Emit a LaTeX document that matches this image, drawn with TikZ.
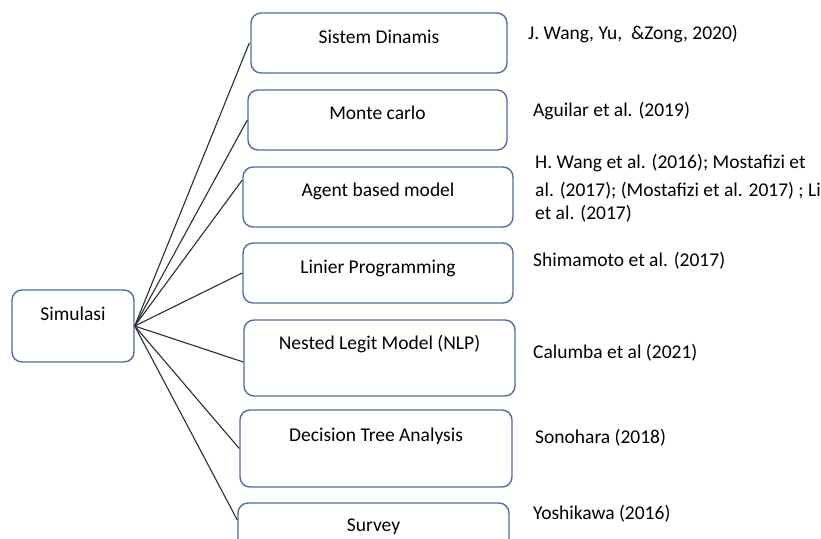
\documentclass[tikz,border=0pt]{standalone}
\usepackage{fontspec}
\setmainfont{Carlito}
\definecolor{boxblue}{RGB}{84,108,160}
\definecolor{linegray}{RGB}{45,45,45}
\newcommand{\txtsize}{\fontsize{19.5}{25.5}\selectfont}
\begin{document}
\begin{tikzpicture}[x=1pt,y=-1pt,
  box/.style={draw=boxblue, line width=1.4pt, rounded corners=10pt, inner sep=0pt, fill=white},
  lbl/.style={font=\txtsize, inner sep=0pt, anchor=center, text height=0.68em, text depth=0.18em},
  cite/.style={font=\txtsize, inner sep=0pt, anchor=west, text height=0.68em, text depth=0.18em},
  conn/.style={draw=linegray, line width=1.1pt}]
\useasboundingbox (0,0) rectangle (821,538);
\clip (0,0) rectangle (821,538);
\fill[white] (0,0) rectangle (821,538);
% boxes
\node[box, minimum width=122pt, minimum height=72pt] (sim) at (73,326) {};
\node[box, minimum width=256pt, minimum height=60pt] (b1) at (379,43) {};
\node[box, minimum width=259pt, minimum height=60pt] (b2) at (377.5,120) {};
\node[box, minimum width=270pt, minimum height=60pt] (b3) at (378,197) {};
\node[box, minimum width=270pt, minimum height=60pt] (b4) at (378,273) {};
\node[box, minimum width=271pt, minimum height=76pt] (b5) at (379.5,358) {};
\node[box, minimum width=272pt, minimum height=77pt] (b6) at (376,448.5) {};
\node[box, minimum width=271pt, minimum height=72pt] (b7) at (373.5,539) {};
% labels
\node[lbl] (tsim) at (73,318) {Simulasi};
\node[lbl] (t1) at (379,41) {Sistem Dinamis};
\node[lbl] (t2) at (377.5,117) {Monte carlo};
\node[lbl] (t3) at (378,194) {Agent based model};
\node[lbl] (t4) at (378,271) {Linier Programming};
\node[lbl] (t5) at (379.5,347) {Nested Legit Model (NLP)};
\node[lbl] (t6) at (376,439) {Decision Tree Analysis};
\node[lbl] (t7) at (373.5,529) {Survey};
% connectors
\coordinate (hub) at (sim.east);
\draw[conn] (hub) -- ([xshift=-1pt]b1.west);
\draw[conn] (hub) -- (b2.west);
\draw[conn] (hub) -- ([yshift=17pt]b3.west);
\draw[conn] (hub) -- (b4.west);
\draw[conn] (hub) -- ([yshift=-4pt]b5.west);
\draw[conn] (hub) -- (b6.west);
\draw[conn] (hub) -- ([yshift=19pt]b7.west);
% citations
\node[cite] (c1) at (528,37) {J. Wang, Yu,\ \ \&Zong, 2020)};
\node[cite] (c2) at (533,114) {Aguilar et al. (2019)};
\node[cite] (c3a) at (535,166) {H. Wang et al. (2016); Mostafizi et};
\node[cite] (c3b) at (535,194) {al. (2017); (Mostafizi et al. 2017) ; Li};
\node[cite] (c3c) at (535,217) {et al. (2017)};
\node[cite] (c4) at (533,264) {Shimamoto et al. (2017)};
\node[cite] (c5) at (533,356) {Calumba et al (2021)};
\node[cite] (c6) at (535,441) {Sonohara (2018)};
\node[cite] (c7) at (533,517) {Yoshikawa (2016)};
\end{tikzpicture}
\end{document}
